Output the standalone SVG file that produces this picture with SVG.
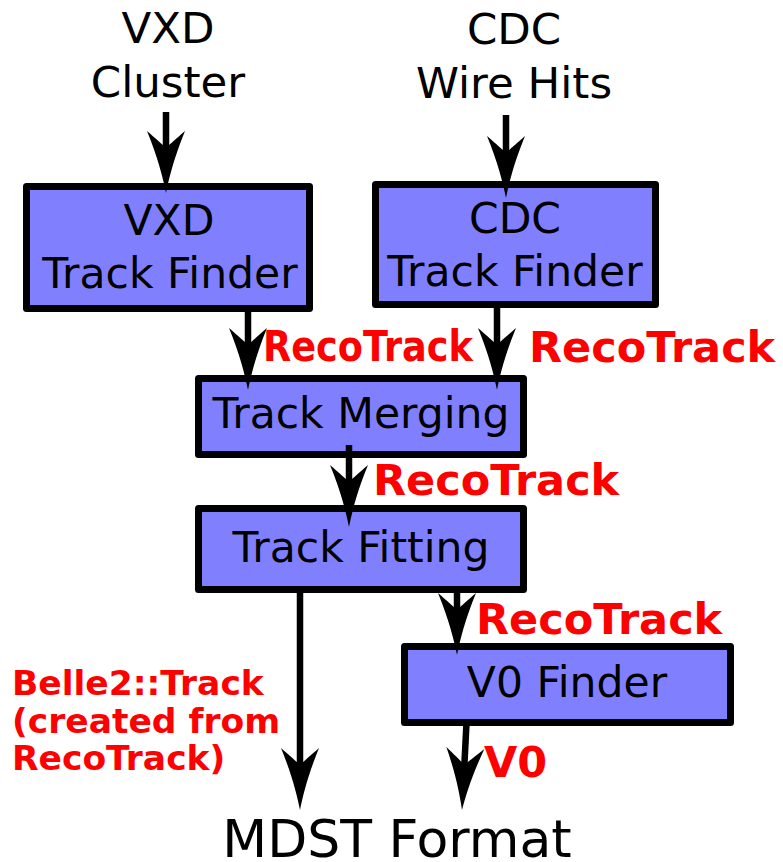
<svg xmlns="http://www.w3.org/2000/svg" xmlns:xlink="http://www.w3.org/1999/xlink" width="783" height="862" viewBox="0 0 783 862">
  <style>
    .box { fill: #8080ff; stroke: #000; stroke-width: 7; stroke-linejoin: round; }
    .lbl { font-family: "DejaVu Sans", Verdana, sans-serif; font-size: 42.5px; fill: #000; text-anchor: middle; }
    .top { font-family: "DejaVu Sans", Verdana, sans-serif; font-size: 43.5px; fill: #000; text-anchor: middle; }
    .red { font-family: "DejaVu Sans", Verdana, sans-serif; font-weight: bold; font-size: 43px; fill: #ff0000; }
    .note { font-family: "DejaVu Sans", Verdana, sans-serif; font-weight: bold; font-size: 34.5px; fill: #ff0000; }
    .shaft { fill: none; stroke: #000; stroke-width: 6.5; }
  </style>
  <defs>
    <!-- swept arrowhead, tip at origin, pointing down -->
    <path id="head" d="M0,0 C-3,-15 -8,-35 -19,-62 C-10,-54 -4,-49 0,-45 C4,-49 10,-54 19,-62 C8,-35 3,-15 0,0 Z" fill="#000"/>
  </defs>

  <rect width="783" height="862" fill="#fff"/>

  <!-- inputs -->
  <g id="vxd-cluster">
    <text class="top" x="168" y="43">VXD</text>
    <text class="top" x="168" y="97">Cluster</text>
  </g>
  <g id="cdc-wire-hits">
    <text class="top" x="514" y="44">CDC</text>
    <text class="top" x="514" y="98">Wire Hits</text>
  </g>

  <!-- processing stages -->
  <g id="vxd-track-finder">
    <rect class="box" x="26.5" y="186.5" width="283" height="122"/>
    <text class="lbl" x="169" y="235">VXD</text>
    <text class="lbl" x="170" y="288">Track Finder</text>
  </g>
  <g id="cdc-track-finder">
    <rect class="box" x="375.5" y="184.5" width="280" height="120"/>
    <text class="lbl" x="515" y="233">CDC</text>
    <text class="lbl" x="515" y="286">Track Finder</text>
  </g>
  <g id="track-merging">
    <rect class="box" x="198.5" y="378.5" width="325" height="76"/>
    <text class="lbl" x="361" y="428">Track Merging</text>
  </g>
  <g id="track-fitting">
    <rect class="box" x="198.5" y="508.5" width="325" height="81"/>
    <text class="lbl" x="361" y="562">Track Fitting</text>
  </g>
  <g id="v0-finder">
    <rect class="box" x="404.5" y="646.5" width="326" height="76"/>
    <text class="lbl" x="567" y="697">V0 Finder</text>
  </g>

  <!-- output -->
  <g id="mdst-format">
    <text class="lbl" x="397" y="857" style="font-size:52px">MDST Format</text>
  </g>

  <!-- connectors -->
  <g id="connectors">
    <line class="shaft" x1="166" y1="112" x2="166" y2="165"/>
    <use xlink:href="#head" transform="translate(166,193)"/>

    <line class="shaft" x1="506" y1="115" x2="506" y2="170"/>
    <use xlink:href="#head" transform="translate(506,198)"/>

    <line class="shaft" x1="248" y1="307" x2="248" y2="362"/>
    <use xlink:href="#head" transform="translate(248,390)"/>

    <line class="shaft" x1="497" y1="304" x2="497" y2="362"/>
    <use xlink:href="#head" transform="translate(497,390)"/>

    <line class="shaft" x1="349" y1="445" x2="349" y2="500"/>
    <use xlink:href="#head" transform="translate(349,527)"/>

    <line class="shaft" x1="300" y1="590" x2="300" y2="782"/>
    <use xlink:href="#head" transform="translate(300,810)"/>

    <line class="shaft" x1="457" y1="590" x2="457" y2="627"/>
    <use xlink:href="#head" transform="translate(457,655)"/>

    <line class="shaft" x1="466.5" y1="723" x2="463.5" y2="782"/>
    <use xlink:href="#head" transform="translate(462,810) rotate(3.1)"/>
  </g>

  <!-- data product labels -->
  <g id="labels">
    <text class="red" x="263" y="361" textLength="210" lengthAdjust="spacingAndGlyphs">RecoTrack</text>
    <text class="red" x="529" y="362">RecoTrack</text>
    <text class="red" x="373" y="495">RecoTrack</text>
    <text class="red" x="476" y="634">RecoTrack</text>
    <text class="red" x="484" y="777">V0</text>
    <text class="note" x="12" y="695">Belle2::Track</text>
    <text class="note" x="12" y="732.5">(created from</text>
    <text class="note" x="12" y="770">RecoTrack)</text>
  </g>
</svg>
